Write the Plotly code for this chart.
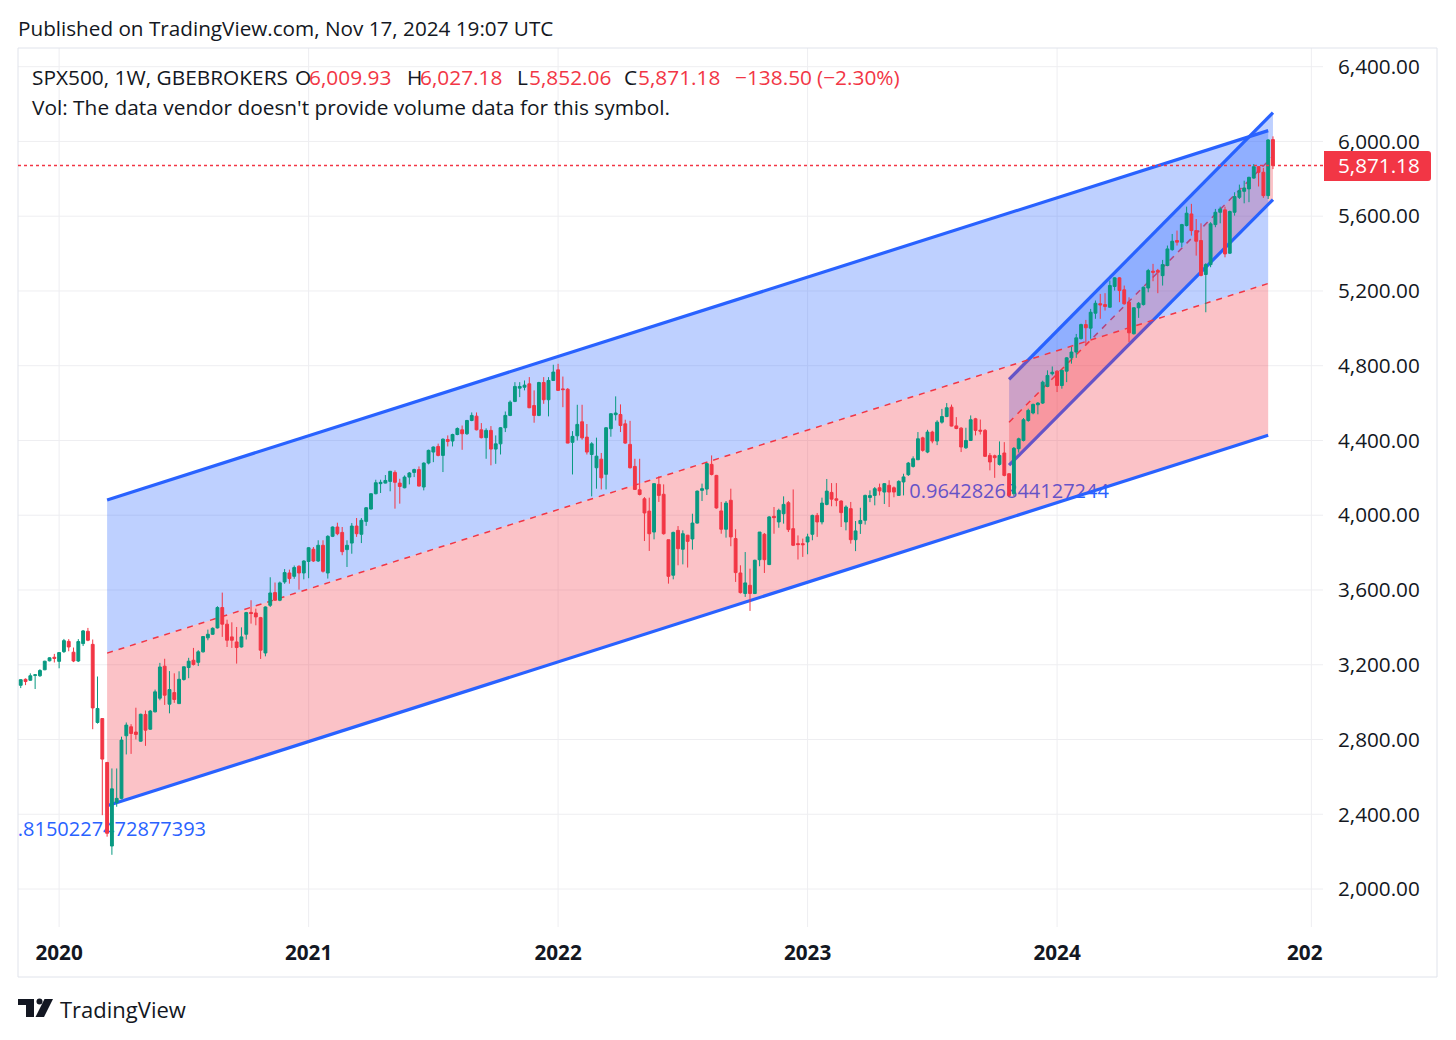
import plotly.graph_objects as go
import pandas as pd

# weekly SPX500 candles, first bar is week of 2019-11-11
opens = [
    3090, 3122, 3117, 3143, 3141, 3173, 3221, 3240, 3218, 3270,
    3325, 3267, 3220, 3313, 3379, 3309, 2891, 2912, 2677, 2230,
    2463, 2485, 2820, 2868, 2840, 2791, 2934, 2855, 2948, 3021,
    3192, 2989, 3051, 2992, 3121, 3185, 3224, 3213, 3269, 3344,
    3363, 3397, 3506, 3417, 3349, 3322, 3295, 3363, 3480, 3477,
    3452, 3263, 3518, 3586, 3545, 3643, 3691, 3673, 3727, 3691,
    3753, 3818, 3755, 3839, 3691, 3887, 3937, 3908, 3816, 3851,
    3942, 3898, 3967, 4033, 4115, 4169, 4172, 4181, 4229, 4172,
    4147, 4204, 4229, 4244, 4151, 4279, 4338, 4368, 4320, 4405,
    4397, 4432, 4457, 4436, 4507, 4530, 4457, 4415, 4454, 4354,
    4382, 4468, 4534, 4609, 4680, 4685, 4703, 4587, 4534, 4710,
    4618, 4721, 4778, 4676, 4674, 4390, 4425, 4500, 4418, 4325,
    4254, 4300, 4219, 4463, 4538, 4539, 4489, 4379, 4261, 4136,
    4088, 4022, 3910, 4165, 4112, 3869, 3679, 3919, 3818, 3893,
    3873, 3958, 4133, 4140, 4272, 4213, 4023, 3925, 4080, 3875,
    3691, 3581, 3625, 3581, 3762, 3898, 3736, 3994, 3964, 4008,
    4067, 3928, 3848, 3848, 3857, 3898, 3999, 3964, 4058, 4122,
    4088, 4076, 3964, 4035, 3869, 3955, 3973, 4095, 4106, 4147,
    4124, 4160, 4147, 4106, 4178, 4217, 4261, 4297, 4414, 4338,
    4445, 4397, 4498, 4528, 4578, 4478, 4466, 4361, 4400, 4516,
    4455, 4454, 4320, 4318, 4272, 4333, 4222, 4115, 4356, 4400,
    4507, 4547, 4591, 4600, 4689, 4757, 4771, 4694, 4771, 4842,
    4873, 4945, 5020, 5001, 5081, 5132, 5127, 5113, 5224, 5270,
    5206, 5140, 4971, 5110, 5127, 5216, 5306, 5310, 5282, 5336,
    5421, 5470, 5461, 5550, 5612, 5523, 5470, 5288, 5341, 5555,
    5621, 5634, 5402, 5621, 5701, 5733, 5746, 5804, 5865, 5835,
    5710, 6009.93,
]
highs = [
    3122, 3127, 3154, 3150, 3176, 3221, 3240, 3258, 3267, 3338,
    3337, 3292, 3337, 3386, 3397, 3335, 3137, 2915, 2680, 2645,
    2645, 2815, 2891, 2882, 2970, 2938, 2955, 2958, 3067, 3210,
    3232, 3166, 3154, 3165, 3190, 3237, 3290, 3278, 3353, 3388,
    3400, 3513, 3586, 3441, 3427, 3402, 3400, 3483, 3545, 3500,
    3456, 3512, 3668, 3640, 3645, 3712, 3709, 3731, 3732, 3759,
    3830, 3830, 3866, 3866, 3893, 3940, 3960, 3937, 3866, 3958,
    3985, 3985, 4044, 4118, 4190, 4190, 4215, 4237, 4240, 4195,
    4213, 4231, 4249, 4261, 4283, 4351, 4368, 4383, 4411, 4427,
    4436, 4470, 4480, 4510, 4550, 4550, 4493, 4465, 4477, 4427,
    4472, 4555, 4614, 4712, 4712, 4721, 4739, 4668, 4714, 4739,
    4739, 4805, 4810, 4742, 4680, 4450, 4591, 4591, 4488, 4391,
    4415, 4333, 4472, 4546, 4636, 4593, 4511, 4505, 4302, 4302,
    4097, 4094, 4169, 4208, 4165, 3869, 3912, 3942, 3919, 3895,
    4008, 4132, 4169, 4280, 4320, 4216, 4071, 4076, 4142, 3925,
    3732, 3803, 3714, 3762, 3910, 3905, 3996, 4044, 4035, 4101,
    4076, 4138, 3892, 3875, 3901, 4003, 4012, 4094, 4194, 4172,
    4172, 4080, 4053, 4071, 3969, 4040, 4110, 4133, 4151, 4169,
    4172, 4187, 4154, 4187, 4222, 4285, 4315, 4445, 4420, 4457,
    4452, 4508, 4569, 4600, 4592, 4525, 4471, 4468, 4534, 4521,
    4512, 4461, 4333, 4324, 4395, 4391, 4225, 4365, 4415, 4520,
    4570, 4597, 4605, 4720, 4775, 4796, 4775, 4778, 4846, 4900,
    4970, 5025, 5045, 5104, 5149, 5184, 5188, 5256, 5274, 5274,
    5229, 5166, 5113, 5141, 5224, 5318, 5345, 5318, 5366, 5443,
    5505, 5523, 5559, 5651, 5666, 5585, 5562, 5349, 5568, 5639,
    5651, 5651, 5630, 5728, 5769, 5790, 5811, 5879, 5868, 5858,
    6012, 6027.18,
]
lows = [
    3075, 3091, 3115, 3070, 3135, 3171, 3218, 3212, 3181, 3263,
    3272, 3214, 3215, 3300, 3326, 2855, 2885, 2395, 2280, 2183,
    2440, 2480, 2720, 2723, 2800, 2788, 2766, 2852, 2945, 3010,
    2985, 2940, 2996, 2990, 3115, 3128, 3196, 3193, 3265, 3331,
    3360, 3394, 3349, 3295, 3290, 3206, 3292, 3335, 3420, 3411,
    3231, 3245, 3509, 3543, 3540, 3633, 3634, 3660, 3602, 3657,
    3663, 3750, 3750, 3693, 3661, 3883, 3893, 3786, 3723, 3794,
    3884, 3851, 3943, 4030, 4112, 4119, 4170, 4128, 4035, 4062,
    4144, 4165, 4204, 4154, 4133, 4272, 4284, 4315, 4231, 4368,
    4368, 4428, 4350, 4430, 4503, 4454, 4411, 4302, 4267, 4275,
    4325, 4445, 4530, 4605, 4632, 4668, 4573, 4495, 4530, 4596,
    4529, 4718, 4665, 4578, 4385, 4218, 4400, 4404, 4325, 4101,
    4142, 4138, 4138, 4420, 4507, 4445, 4382, 4250, 4137, 4106,
    3862, 3809, 3871, 4071, 3896, 3634, 3657, 3732, 3737, 3720,
    3816, 3955, 4076, 4108, 4213, 4035, 3901, 3880, 3834, 3643,
    3581, 3563, 3488, 3578, 3727, 3691, 3733, 3901, 3933, 3955,
    3910, 3835, 3763, 3777, 3791, 3866, 3884, 3951, 4053, 4048,
    4048, 3937, 3919, 3848, 3808, 3900, 3950, 4070, 4053, 4106,
    4060, 4044, 4096, 4103, 4106, 4210, 4255, 4295, 4340, 4332,
    4385, 4375, 4490, 4525, 4475, 4460, 4338, 4355, 4397, 4427,
    4432, 4312, 4240, 4200, 4266, 4208, 4097, 4103, 4335, 4395,
    4500, 4540, 4540, 4595, 4685, 4748, 4659, 4677, 4712, 4811,
    4842, 4940, 4917, 4944, 5051, 5051, 5095, 5110, 5202, 5140,
    5127, 4926, 4967, 5056, 5122, 5193, 5252, 5188, 5229, 5332,
    5415, 5443, 5434, 5545, 5496, 5389, 5278, 5086, 5327, 5541,
    5562, 5380, 5398, 5603, 5692, 5669, 5675, 5800, 5759, 5698,
    5692, 5852.06,
]
closes = [
    3120, 3110, 3141, 3146, 3169, 3219, 3237, 3234, 3265, 3329,
    3295, 3220, 3324, 3381, 3331, 2969, 2966, 2695, 2298, 2536,
    2485, 2797, 2877, 2832, 2827, 2935, 2850, 2952, 3055, 3188,
    3037, 3067, 3014, 3122, 3189, 3219, 3201, 3269, 3351, 3363,
    3395, 3506, 3417, 3331, 3331, 3292, 3349, 3479, 3474, 3456,
    3278, 3509, 3584, 3545, 3638, 3693, 3661, 3720, 3691, 3755,
    3826, 3755, 3839, 3700, 3887, 3937, 3901, 3805, 3839, 3942,
    3901, 3973, 4040, 4115, 4174, 4176, 4186, 4235, 4176, 4154,
    4204, 4226, 4244, 4156, 4279, 4347, 4365, 4320, 4407, 4395,
    4432, 4464, 4436, 4507, 4534, 4457, 4415, 4454, 4354, 4382,
    4468, 4534, 4605, 4689, 4689, 4696, 4575, 4534, 4710, 4618,
    4721, 4766, 4668, 4672, 4386, 4422, 4486, 4414, 4338, 4382,
    4316, 4200, 4468, 4543, 4547, 4480, 4386, 4254, 4138, 4111,
    4012, 3901, 4169, 4106, 3901, 3673, 3908, 3821, 3901, 3860,
    3958, 4129, 4142, 4276, 4218, 4039, 3925, 4065, 3884, 3693,
    3586, 3638, 3581, 3759, 3910, 3762, 3991, 3987, 4026, 4058,
    3923, 3839, 3843, 3842, 3884, 3999, 3964, 4065, 4129, 4086,
    4080, 4014, 4044, 3869, 3916, 3972, 4106, 4105, 4142, 4130,
    4169, 4124, 4124, 4181, 4205, 4279, 4302, 4409, 4347, 4445,
    4397, 4498, 4528, 4575, 4477, 4464, 4365, 4400, 4511, 4454,
    4450, 4315, 4285, 4308, 4320, 4213, 4106, 4358, 4409, 4511,
    4561, 4593, 4600, 4712, 4748, 4765, 4694, 4775, 4842, 4873,
    4949, 5020, 5003, 5086, 5134, 5125, 5117, 5229, 5270, 5202,
    5131, 4976, 5110, 5134, 5220, 5309, 5300, 5300, 5341, 5425,
    5466, 5461, 5555, 5616, 5523, 5466, 5283, 5341, 5559, 5621,
    5639, 5398, 5625, 5705, 5737, 5751, 5808, 5865, 5835, 5710,
    6008, 5871.18,
]
weeks = pd.date_range("2019-11-11", periods=len(closes), freq="7D")

year_ticks = ["2020-01-06", "2021-01-04", "2022-01-03", "2023-01-02", "2024-01-01", "2025-01-06"]
year_labels = ["2020", "2021", "2022", "2023", "2024", ""]
price_ticks = [2000, 2400, 2800, 3200, 3600, 4000, 4400, 4800, 5200, 5600, 6000, 6400]

# channels: start date, end date, then (start, end) price of each rail
big_dates = ["2020-03-16", "2024-11-04"]
big_top = [4082, 6058]
big_mid = [3262, 5240]
big_low = [2445, 4428]
small_dates = ["2023-10-23", "2024-11-11"]
small_top = [4727, 6154]
small_mid = [4497, 5921]
small_low = [4268, 5689]

BLUE = "#2962ff"
RED = "#f23645"
GREEN = "#089981"
INK = "#131722"
LINE = "#e0e3eb"
GRID = "#eeeef1"
FONT = "Open Sans"
FILL_BLUE = "rgba(41,98,255,0.3)"
FILL_RED = "rgba(242,54,69,0.3)"

# plot box in window pixels, the page body adds 8px
LEFT, RIGHT, TOP, BOTTOM = 18, 1323, 48, 927


def px(x):
    return (x - LEFT) / (RIGHT - LEFT)


def py(y):
    return (BOTTOM - y) / (BOTTOM - TOP)


def band(dates, upper, lower, color):
    path = f"M {dates[0]},{upper[0]} L {dates[1]},{upper[1]} L {dates[1]},{lower[1]} L {dates[0]},{lower[0]} Z"
    return dict(type="path", path=path, xref="x", yref="y", fillcolor=color, line_width=0, layer="below")


def rail(dates, prices, width=3.2, color=BLUE, dash="solid"):
    return dict(type="line", xref="x", yref="y", x0=dates[0], x1=dates[1], y0=prices[0], y1=prices[1],
                line=dict(color=color, width=width, dash=dash), layer="below")


def ratio_label(text, d0, d1, p0, p1):
    return dict(type="rect", xref="x", yref="y", x0=d0, x1=d1, y0=p0, y1=p1, line_width=0,
                fillcolor="rgba(0,0,0,0)", layer="below",
                label=dict(text=text, textposition="middle center",
                           font=dict(family=FONT, size=20, color=BLUE)))


# grid as shapes so the channel fills can tint it
grid = [dict(type="line", xref="x", yref="paper", x0=t, x1=t, y0=0, y1=1,
             line=dict(color=GRID, width=1), layer="below") for t in year_ticks]
grid += [dict(type="line", xref="paper", yref="y", x0=0, x1=1, y0=p, y1=p,
              line=dict(color=GRID, width=1), layer="below") for p in price_ticks]

# small channel goes first, the big channel's fills sit over it
shapes = grid + [
    band(small_dates, small_top, small_mid, FILL_BLUE),
    band(small_dates, small_mid, small_low, FILL_RED),
    rail(small_dates, small_top),
    rail(small_dates, small_low),
    rail(small_dates, small_mid, 1.5, RED, "6px,6px"),
    ratio_label("0.9642826844127244", "2023-09-25", "2023-11-20", 4095, 4161),
    band(big_dates, big_top, big_mid, FILL_BLUE),
    band(big_dates, big_mid, big_low, FILL_RED),
    rail(big_dates, big_top),
    rail(big_dates, big_low),
    rail(big_dates, big_mid, 1.5, RED, "6px,6px"),
    ratio_label(".8150227472877393", "2020-02-24", "2020-04-20", 2283, 2349),
    # last price line
    dict(type="line", xref="paper", yref="y", x0=0, x1=1, y0=closes[-1], y1=closes[-1],
         line=dict(color=RED, width=1.3, dash="dot")),
    # outer frame around chart and axes
    dict(type="rect", xref="paper", yref="paper", x0=0, x1=px(1437), y0=py(977), y1=1,
         line=dict(color=LINE, width=1), layer="below"),
    # last price tag, rounded on the right
    dict(type="path", xref="paper", yref="paper", fillcolor=RED, line_width=0,
         path=f"M {px(1324)},{py(151)} L {px(1428)},{py(151)} Q {px(1431)},{py(151)} {px(1431)},{py(154)} "
              f"L {px(1431)},{py(178)} Q {px(1431)},{py(181)} {px(1428)},{py(181)} L {px(1324)},{py(181)} Z"),
    # TradingView logo
    dict(type="path", xref="paper", yref="paper", fillcolor=INK, line_width=0,
         path=f"M {px(18)},{py(999)} L {px(34)},{py(999)} L {px(34)},{py(1017)} L {px(26)},{py(1017)} "
              f"L {px(26)},{py(1005)} L {px(18)},{py(1005)} Z"),
    dict(type="circle", xref="paper", yref="paper", fillcolor=INK, line_width=0,
         x0=px(36.5), x1=px(42.5), y0=py(1004.5), y1=py(998.5)),
    dict(type="path", xref="paper", yref="paper", fillcolor=INK, line_width=0,
         path=f"M {px(44.5)},{py(999)} L {px(53)},{py(999)} L {px(44)},{py(1017)} L {px(35.5)},{py(1017)} Z"),
]


def note(text, x, y, size, color=INK, anchor="left", weight=400):
    return dict(text=text, x=px(x), y=py(y), xref="paper", yref="paper", showarrow=False,
                xanchor=anchor, yanchor="middle", align="left",
                font=dict(family=FONT, size=size, color=color, weight=weight))


# legend pieces with where each one starts in the reference
legend_text = ["SPX500, 1W, GBEBROKERS", "O", "6,009.93", "H", "6,027.18", "L", "5,852.06", "C", "5,871.18",
               "−138.50", "(−2.30%)"]
legend_left = [30, 293, 307, 405, 418, 515, 527, 622, 636, 733, 815]
legend_color = [INK, INK, RED, INK, RED, INK, RED, INK, RED, RED, RED]

annotations = [
    note("Published on TradingView.com, Nov 17, 2024 19:07 UTC", 16, 28, 20.7),
    note("Vol: The data vendor doesn't provide volume data for this symbol.", 30, 107, 20.85),
    note("TradingView", 58, 1009, 22),
    note("202", 1305, 952, 20.7, anchor="center", weight=700),
    note("5,871.18", 1378.5, 165.5, 20.7, color="white", anchor="center", weight=500),
]
annotations += [note(t, x, 77, 20.85, color=c) for t, x, c in zip(legend_text, legend_left, legend_color)]

fig = go.Figure(go.Candlestick(
    x=weeks, open=opens, high=highs, low=lows, close=closes,
    increasing=dict(line=dict(color=GREEN, width=1), fillcolor=GREEN),
    decreasing=dict(line=dict(color=RED, width=1), fillcolor=RED),
    whiskerwidth=0, showlegend=False,
))

fig.update_layout(
    width=1440, height=1024,
    margin=dict(l=LEFT - 8, r=1448 - RIGHT, t=TOP - 8, b=1032 - BOTTOM, autoexpand=False),
    paper_bgcolor="white", plot_bgcolor="white",
    boxgap=0.15,
    shapes=shapes, annotations=annotations,
    xaxis=dict(type="date", range=["2019-11-07", "2025-01-23"], rangeslider_visible=False,
               tickmode="array", tickvals=year_ticks, ticktext=year_labels, ticks="",
               tickfont=dict(family=FONT, size=20.7, color=INK, weight=700), ticklabelstandoff=11,
               showgrid=False, zeroline=False, showline=False),
    yaxis=dict(side="right", range=[1796.7, 6500], tickmode="array", tickvals=price_ticks,
               tickformat=",.2f", ticks="", tickfont=dict(family=FONT, size=20.7, color=INK),
               ticklabelstandoff=14, showgrid=False, zeroline=False, showline=False),
)

fig.write_html("out.html")
